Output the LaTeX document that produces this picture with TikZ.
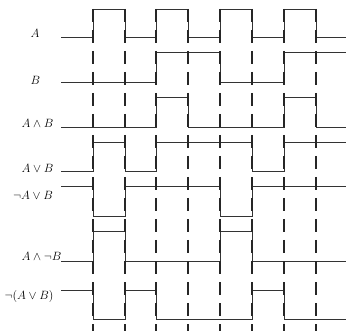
\documentclass[tikz,border=0pt]{standalone}
\begin{document}
\begin{tikzpicture}[x=1pt,y=-1pt,
  wave/.style={draw=black!80, line width=0.9pt},
  guide/.style={draw=black!85, line width=1.2pt, dash pattern=on 13pt off 8pt},
  lab/.style={inner sep=0pt, font=\fontsize{12}{14}\selectfont}]
\useasboundingbox (0,0) rectangle (348,331);
% waveforms
\draw[wave] (61,37) -- (93,37) -- (93,9) -- (125,9) -- (125,37) -- (156,37) -- (156,9) -- (188,9) -- (188,37) -- (220,37) -- (220,9) -- (252,9) -- (252,37) -- (284,37) -- (284,9) -- (316,9) -- (316,37) -- (346,37);
\draw[wave] (61,82) -- (156,82) -- (156,52) -- (220,52) -- (220,82) -- (284,82) -- (284,52) -- (346,52);
\draw[wave] (61,127) -- (156,127) -- (156,97) -- (188,97) -- (188,127) -- (284,127) -- (284,97) -- (316,97) -- (316,127) -- (346,127);
\draw[wave] (61,171) -- (93,171) -- (93,142) -- (125,142) -- (125,171) -- (156,171) -- (156,142) -- (252,142) -- (252,171) -- (284,171) -- (284,142) -- (346,142);
\draw[wave] (61,186) -- (93,186) -- (93,216) -- (125,216) -- (125,186) -- (220,186) -- (220,216) -- (252,216) -- (252,186) -- (346,186);
\draw[wave] (61,261) -- (93,261) -- (93,231) -- (125,231) -- (125,261) -- (220,261) -- (220,231) -- (252,231) -- (252,261) -- (346,261);
\draw[wave] (61,290) -- (93,290) -- (93,319) -- (125,319) -- (125,290) -- (156,290) -- (156,319) -- (252,319) -- (252,290) -- (284,290) -- (284,319) -- (346,319);
% dashed guides
\foreach \x in {93,125,156,188,220,252,284,316}
  \draw[guide] (\x,9) -- (\x,331);
% labels
\node[lab] (la) at (35,33.5) {$A$};
\node[lab] (lb) at (35.5,80.5) {$B$};
\node[lab] (lab) at (37.5,123) {$A\wedge B$};
\node[lab] (lor) at (37.5,168) {$A\vee B$};
\node[lab] (lnor) at (33,195.5) {$\neg A\vee B$};
\node[lab] (lanb) at (41.5,256) {$A\wedge\neg B$};
\node[lab] (lnot) at (29,296) {$\neg(A\vee B)$};
\end{tikzpicture}
\end{document}
